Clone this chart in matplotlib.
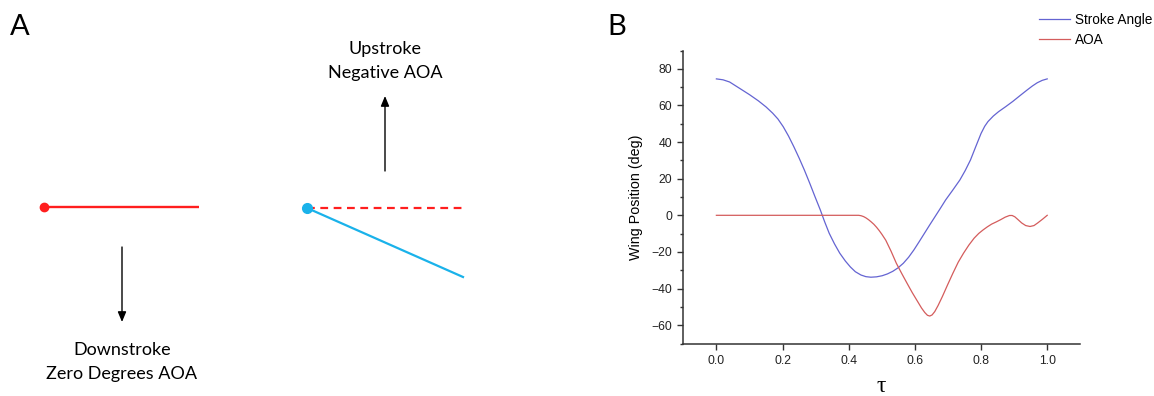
import matplotlib.pyplot as plt
from matplotlib.ticker import MultipleLocator

# Panel B data
tau_stroke = [0.0, 0.02, 0.04, 0.074, 0.1, 0.127, 0.15, 0.17, 0.186, 0.202, 0.218,
              0.234, 0.25, 0.266, 0.282, 0.298, 0.314, 0.327, 0.341, 0.357, 0.373,
              0.39, 0.405, 0.42, 0.437, 0.452, 0.467, 0.484, 0.501, 0.517, 0.533,
              0.549, 0.565, 0.581, 0.597, 0.613, 0.629, 0.645, 0.661, 0.677, 0.693,
              0.715, 0.736, 0.752, 0.768, 0.784, 0.80, 0.811, 0.821, 0.837, 0.853,
              0.875, 0.896, 0.918, 0.939, 0.955, 0.97, 0.985, 1.0]
stroke_angle = [74.5, 74.0, 72.8, 68.9, 65.9, 62.5, 59.2, 55.8, 52.6, 48.4, 43.3,
                37.5, 31.3, 24.7, 17.6, 10.2, 3.0, -3.4, -9.8, -15.6, -20.7,
                -25.0, -28.2, -30.8, -32.6, -33.5, -33.8, -33.6, -33.0, -32.0, -30.6,
                -28.7, -26.2, -22.9, -18.9, -14.4, -9.8, -5.2, -0.7, 3.8, 8.4,
                13.9, 19.3, 24.4, 30.2, 37.5, 44.7, 48.6, 51.2, 54.2, 56.6,
                59.4, 62.2, 65.4, 68.4, 70.6, 72.4, 73.7, 74.5]

tau_aoa = [0.0, 0.2, 0.43, 0.437, 0.445, 0.452, 0.46, 0.468, 0.476, 0.484,
           0.492, 0.5, 0.512, 0.528, 0.544, 0.56, 0.576, 0.592, 0.608, 0.62,
           0.63, 0.638, 0.645, 0.652, 0.66, 0.67, 0.683, 0.699, 0.715, 0.731,
           0.747, 0.763, 0.779, 0.793, 0.806, 0.819, 0.832, 0.846, 0.859, 0.873,
           0.886, 0.894, 0.902, 0.912, 0.923, 0.935, 0.948, 0.96, 0.971, 0.986, 1.0]
aoa = [0.0, 0.0, 0.0, -0.2, -0.7, -1.4, -2.4, -3.6, -4.9, -6.5,
       -8.3, -10.3, -13.6, -19.6, -26.2, -31.7, -37.0, -42.2, -47.0, -50.6,
       -53.1, -54.6, -55.0, -54.4, -52.6, -49.3, -44.4, -37.9, -31.6, -25.6,
       -20.7, -16.3, -12.5, -9.9, -8.0, -6.3, -4.8, -3.6, -2.4, -1.0,
       -0.1, -0.1, -0.8, -2.4, -4.2, -5.6, -6.1, -5.6, -4.2, -2.1, 0.0]

# Panel A sketch (pixel positions of the schematic)
down_wing_x = [44, 199]
down_wing_y = [207, 207]
up_ref_x = [307, 463]
up_ref_y = [208, 208]
up_wing_x = [307, 463]
up_wing_y = [208, 277]

W, H = 1154, 396
fig = plt.figure(figsize=(W / 100, H / 100), dpi=100)

# ---- panel A: drawn in pixel coords on a full-figure axes
ax_a = fig.add_axes([0, 0, 1, 1])
ax_a.set_xlim(0, W)
ax_a.set_ylim(H, 0)
ax_a.axis('off')

red = '#ff1e1e'
cyan = '#1ab2ea'
txt_font = 'Lato'

ax_a.plot(down_wing_x, down_wing_y, color=red, lw=1.7, solid_capstyle='butt')
ax_a.plot(down_wing_x[0], down_wing_y[0], 'o', color=red, ms=6)

ax_a.plot(up_ref_x, up_ref_y, color=red, lw=1.6, ls=(0, (3.5, 2.5)))
ax_a.plot(up_wing_x, up_wing_y, color=cyan, lw=1.6)
ax_a.plot(up_wing_x[0], up_wing_y[0], 'o', color=cyan, ms=7)

arrow = dict(arrowstyle='-|>,head_width=0.25,head_length=0.6', color='black', lw=1.0,
             shrinkA=0, shrinkB=0)
ax_a.annotate('', xy=(122, 322), xytext=(122, 247), arrowprops=arrow)
ax_a.annotate('', xy=(385, 96), xytext=(385, 171), arrowprops=arrow)

ax_a.text(122, 350, 'Downstroke', ha='center', va='center', fontsize=13, family=txt_font)
ax_a.text(122, 374, 'Zero Degrees AOA', ha='center', va='center', fontsize=13, family=txt_font)
ax_a.text(385, 49, 'Upstroke', ha='center', va='center', fontsize=13, family=txt_font)
ax_a.text(385, 73, 'Negative AOA', ha='center', va='center', fontsize=13, family=txt_font)

fig.text(10 / W, 1 - 27 / H, 'A', fontsize=21, family=txt_font, va='center', ha='left')
fig.text(607 / W, 1 - 27 / H, 'B', fontsize=21, family=txt_font, va='center', ha='left')

# ---- panel B: the plot
ax = fig.add_axes([683.3 / W, 1 - 343.5 / H, 397 / W, 293 / H])
l1, = ax.plot(tau_stroke, stroke_angle, color='#6464d2', lw=0.9)
l2, = ax.plot(tau_aoa, aoa, color='#d45c5c', lw=0.9)

ax.set_xlim(-0.1, 1.1)
ax.set_ylim(-70, 90)
ax.set_xticks([0.0, 0.2, 0.4, 0.6, 0.8, 1.0])
ax.set_yticks([-60, -40, -20, 0, 20, 40, 60, 80])
ax.yaxis.set_minor_locator(MultipleLocator(10))
ax.spines['top'].set_visible(False)
ax.spines['right'].set_visible(False)
for s in ('left', 'bottom'):
    ax.spines[s].set_linewidth(1.1)
    ax.spines[s].set_color('#333333')
ax.tick_params(which='major', direction='out', length=4.5, width=1.0, color='#333333',
               labelsize=8.8, pad=3.5, labelcolor='#222222')
ax.tick_params(which='minor', direction='out', length=2.5, width=1.0, color='#333333')
for lab in ax.get_xticklabels() + ax.get_yticklabels():
    lab.set_family('Liberation Sans')
ax.set_ylabel('Wing Position (deg)', fontsize=10.3, family='Liberation Sans', labelpad=6)
fig.text(881 / W, 1 - 387 / H, 'τ', fontsize=17, ha='center', va='center',
         family='Liberation Serif')

fig.legend([l1, l2], ['Stroke Angle', 'AOA'], loc='upper left',
           bbox_to_anchor=(1036 / W, 1 - 10 / H), frameon=False, handlelength=2.3,
           handletextpad=0.35, labelspacing=0.45, borderaxespad=0.0, borderpad=0.2,
           prop={'family': 'Liberation Sans', 'size': 9.8})

fig.savefig('out.png', dpi=100)
